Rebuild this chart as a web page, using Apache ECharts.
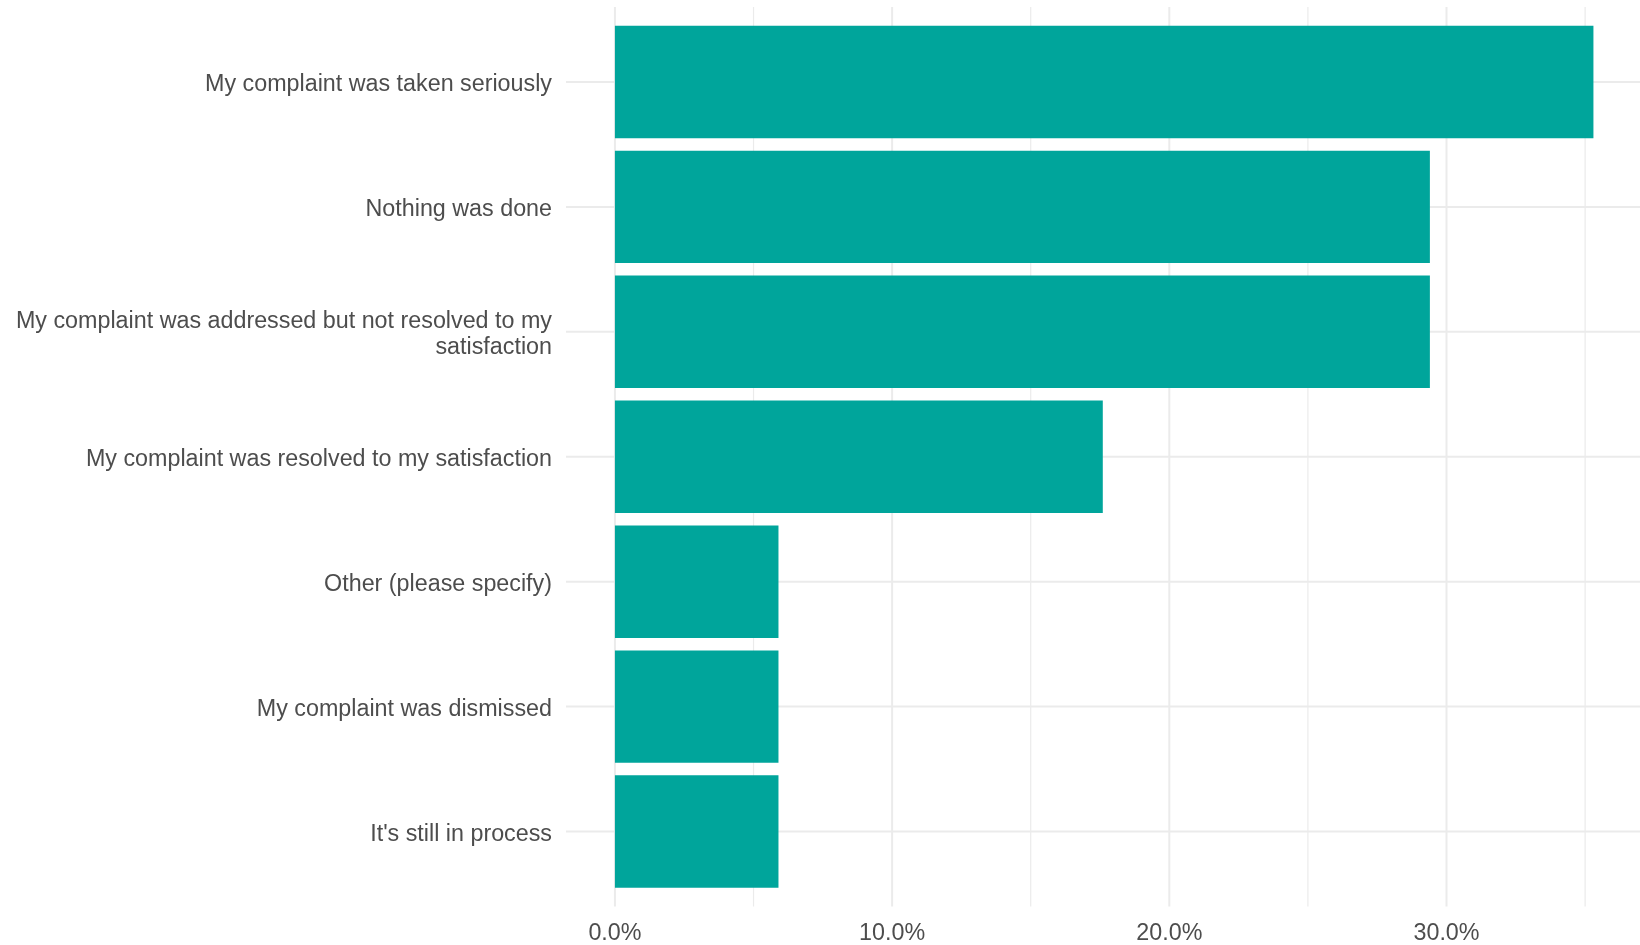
<!DOCTYPE html>
<html>
<head>
<meta charset="utf-8">
<script src="https://cdn.jsdelivr.net/npm/echarts@6/dist/echarts.min.js"></script>
<style>
html,body{margin:0;padding:0;background:#fff;}
#chart{width:1640px;height:945px;}
</style>
</head>
<body>
<div id="chart"></div>
<script>
// Data
const categories = [
  "My complaint was taken seriously",
  "Nothing was done",
  "My complaint was addressed but not resolved to my\nsatisfaction",
  "My complaint was resolved to my satisfaction",
  "Other (please specify)",
  "My complaint was dismissed",
  "It's still in process"
];
const values = [35.3, 29.4, 29.4, 17.6, 5.9, 5.9, 5.9];
const xTickLabels = [0, 10, 20, 30];
const majorGrid = [0, 10, 20, 30];
const minorGrid = [5, 15, 25, 35];

const FONT = "'Liberation Sans', Arial, sans-serif";
const TEXT = '#4d4d4d';
const GRIDC = '#ebebeb';
const N = categories.length;
const FS = 23.3;

const gridData = majorGrid.map(v => [v, 1]).concat(minorGrid.map(v => [v, 0]));
const rowData = categories.map((c, i) => [0, i]);

const chart = echarts.init(document.getElementById('chart'), null, {renderer: 'canvas'});
chart.setOption({
  backgroundColor: '#ffffff',
  animation: false,
  grid: {left: 566, right: 0, top: 19.5, bottom: 49.6, containLabel: false},
  xAxis: {
    type: 'value', min: -1.765, max: 36.98,
    axisLine: {show: false}, axisTick: {show: false},
    splitLine: {show: false},
    axisLabel: {
      customValues: xTickLabels,
      formatter: v => v.toFixed(1) + '%',
      color: TEXT, fontFamily: FONT, fontSize: FS, margin: 28
    }
  },
  yAxis: {
    type: 'category', data: categories, inverse: true,
    axisLine: {show: false, onZero: false}, axisTick: {show: false},
    splitLine: {show: false},
    axisLabel: {
      interval: 0, color: TEXT, fontFamily: FONT, fontSize: FS,
      margin: 14, align: 'right',
      formatter: v => v.split('\n').map(s => '{a|' + s + '}').join('\n'),
      rich: {
        a: {color: TEXT, fontFamily: FONT, fontSize: FS, lineHeight: 26,
            padding: [6, 0, 0, 0], align: 'right'}
      }
    }
  },
  series: [
    {
      type: 'custom', z: 1, silent: true, clip: false,
      data: gridData,
      encode: {x: 0},
      renderItem: function (params, api) {
        const band = api.size([0, 1])[1];
        const x = api.coord([api.value(0), 0])[0];
        const yTop = api.coord([0, 0])[1] - 0.6 * band;
        const yBot = api.coord([0, N - 1])[1] + 0.6 * band;
        const major = api.value(1) === 1;
        return {
          type: 'line',
          shape: {x1: x, y1: yTop, x2: x, y2: yBot},
          style: {stroke: GRIDC, lineWidth: major ? 2 : 1.2}
        };
      }
    },
    {
      type: 'custom', z: 1, silent: true, clip: false,
      data: rowData,
      encode: {x: 0, y: 1},
      renderItem: function (params, api) {
        const y = api.coord([0, api.value(1)])[1];
        const cs = params.coordSys;
        return {
          type: 'line',
          shape: {x1: cs.x, y1: y, x2: cs.x + cs.width, y2: y},
          style: {stroke: GRIDC, lineWidth: 2}
        };
      }
    },
    {
      type: 'bar', z: 3, data: values, barWidth: '90%',
      itemStyle: {color: '#00a59b'},
      silent: true
    }
  ]
});
</script>
</body>
</html>
